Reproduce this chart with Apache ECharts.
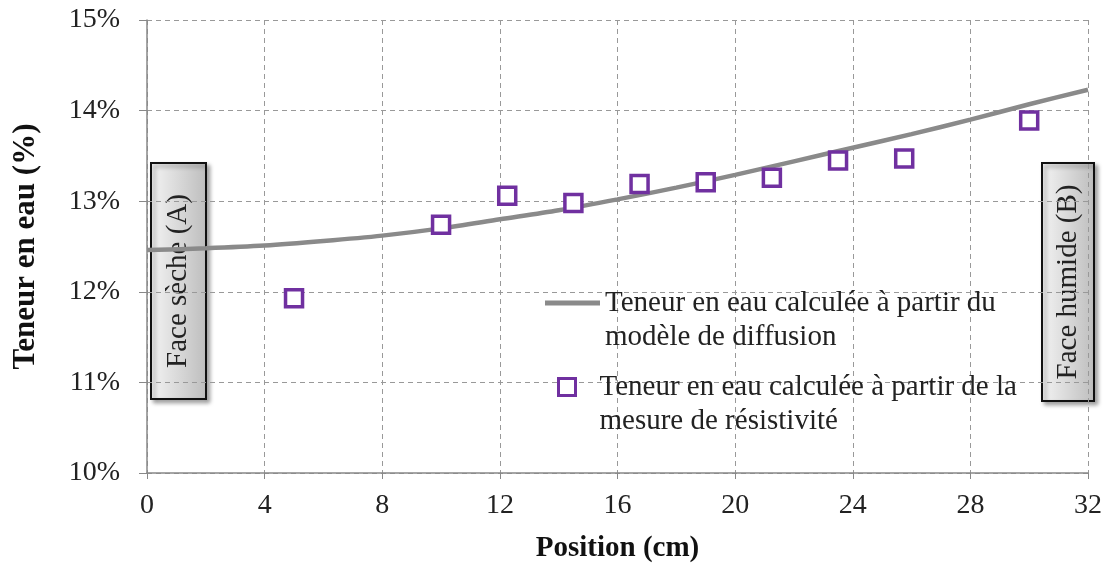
<!DOCTYPE html>
<html>
<head>
<meta charset="utf-8">
<script src="https://cdn.jsdelivr.net/npm/echarts@6/dist/echarts.min.js"></script>
<style>html,body{margin:0;padding:0;background:#fff}#c{width:1110px;height:569px}</style>
</head>
<body>
<div id="c"></div>
<script>
// Model curve (diffusion model)
const modelX = [0, 2, 4, 6, 8, 10, 12, 14, 16, 18, 20, 22, 24, 26, 28, 30, 32];
const modelY = [12.46, 12.48, 12.51, 12.56, 12.62, 12.70, 12.80, 12.90, 13.02, 13.15, 13.29, 13.44, 13.59, 13.74, 13.90, 14.07, 14.23];
// Resistivity measurements
const measX = [5, 10, 12.25, 14.5, 16.75, 19, 21.25, 23.5, 25.75, 30];
const measY = [11.93, 12.74, 13.06, 12.98, 13.19, 13.21, 13.26, 13.45, 13.47, 13.89];
const xTicks = [0, 4, 8, 12, 16, 20, 24, 28, 32];
const yTicks = [10, 11, 12, 13, 14, 15];
const nameModel = 'Teneur en eau calculée à partir du\nmodèle de diffusion';
const nameMeas = 'Teneur en eau calculée à partir de la\nmesure de résistivité';
const boxA = 'Face sèche (A)';
const boxB = 'Face humide (B)';

const FONT = '"Liberation Serif", "Times New Roman", serif';
const chart = echarts.init(document.getElementById('c'), null, {renderer: 'canvas'});

function boxGraphic(left, top, w, h, label) {
  return {
    type: 'group', left: left, top: top,
    children: [
      {type: 'rect', shape: {x: 0, y: 0, width: w, height: h},
       style: {fill: {type: 'linear', x: 0, y: 0, x2: 1, y2: 0,
                colorStops: [{offset: 0, color: '#f4f4f4'}, {offset: 1, color: '#bdbdbd'}]},
               stroke: '#111', lineWidth: 2,
               shadowBlur: 4, shadowOffsetX: 3, shadowOffsetY: 3, shadowColor: 'rgba(0,0,0,0.35)'}},
      {type: 'text', x: w / 2, y: h / 2, rotation: Math.PI / 2,
       style: {text: label, font: '29px ' + FONT, fill: '#222', align: 'center', verticalAlign: 'middle'}}
    ]
  };
}

const legendText = {fontFamily: FONT, fontSize: 29, color: '#222', lineHeight: 34};

chart.setOption({
  animation: false,
  backgroundColor: '#fff',
  grid: {left: 147, right: 22, top: 20, bottom: 96, containLabel: false},
  xAxis: {
    type: 'value', min: 0, max: 32, interval: 4,
    name: 'Position (cm)', nameLocation: 'middle', nameGap: 61,
    nameTextStyle: {fontFamily: FONT, fontSize: 29, fontWeight: 'bold', color: '#111'},
    axisLine: {show: true, lineStyle: {color: '#888', width: 1.5}},
    axisTick: {show: true, length: 6, lineStyle: {color: '#888'}},
    axisLabel: {fontFamily: FONT, fontSize: 28, color: '#222', margin: 19,
      formatter: v => xTicks.includes(v) ? String(v) : ''},
    splitLine: {show: true, lineStyle: {color: '#999', type: [5, 4], width: 1}}
  },
  yAxis: {
    type: 'value', min: 10, max: 15, interval: 1,
    name: 'Teneur en eau (%)', nameLocation: 'middle', nameGap: 106, nameRotate: 90,
    nameTextStyle: {fontFamily: FONT, fontSize: 31, fontWeight: 'bold', color: '#111'},
    axisLine: {show: true, lineStyle: {color: '#888', width: 1.5}},
    axisTick: {show: true, length: 8, lineStyle: {color: '#888'}},
    axisLabel: {fontFamily: FONT, fontSize: 28, color: '#222', margin: 27,
      formatter: v => yTicks.includes(v) ? v + '%' : ''},
    splitLine: {show: true, lineStyle: {color: '#999', type: [5, 4], width: 1}}
  },
  legend: [
    {data: [{name: nameModel, icon: 'rect'}], left: 540, top: 247, itemWidth: 55, itemHeight: 5, itemGap: 0,
     itemStyle: {color: '#8a8a8a', borderWidth: 0},
     formatter: n => '\n' + n, textStyle: legendText},
    {data: [{name: nameMeas, icon: 'path://M0,0H10V10H0Z'}], left: 552, top: 331, itemWidth: 55, itemHeight: 17, itemGap: 0,
     symbolKeepAspect: true,
     itemStyle: {color: '#fff', borderColor: '#7030a0', borderWidth: 3},
     formatter: n => '\n' + n, textStyle: legendText}
  ],
  series: [
    {name: nameModel, type: 'line', data: modelX.map((x, i) => [x, modelY[i]]),
     smooth: 0.3, symbol: 'none', lineStyle: {color: '#8a8a8a', width: 4.5}, itemStyle: {color: '#8a8a8a'}, z: 2},
    {name: nameMeas, type: 'scatter', data: measX.map((x, i) => [x, measY[i]]),
     symbol: 'rect', symbolSize: 17,
     itemStyle: {color: '#fff', borderColor: '#7030a0', borderWidth: 3.5, opacity: 1}, z: 3}
  ],
  graphic: [
    boxGraphic(150, 162, 55, 236, boxA),
    boxGraphic(1041, 162, 52, 238, boxB)
  ]
});
</script>
</body>
</html>
